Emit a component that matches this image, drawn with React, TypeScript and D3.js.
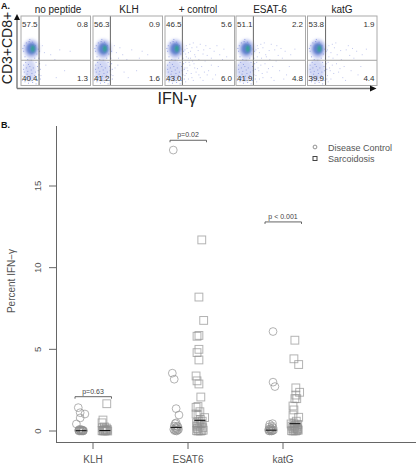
import React from "react";
import * as d3 from "d3";

// ---------- Panel A ----------
const panelNames = ["no peptide", "KLH", "+ control", "ESAT-6", "katG"];
const quadTL = ["57.5", "56.3", "46.5", "51.1", "53.8"];
const quadTR = ["0.8", "0.9", "5.6", "2.2", "1.9"];
const quadBL = ["40.4", "41.2", "43.0", "41.9", "39.9"];
const quadBR = ["1.3", "1.6", "6.0", "4.8", "4.4"];
const panelLeft = [21, 93, 165, 236, 307.5];
const gateX = [26, 25, 25, 25, 26];
const rightDotCount = [10, 16, 60, 42, 36];
const lowerSpread = [0.75, 1, 1.05, 1.1, 1.05];
const rightDots: [number, number][] = [
  [30, 42], [42, 55], [55, 48], [35, 70], [62, 78], [33, 52], [48, 62], [70, 50], [28, 85], [50, 88],
  [38, 45], [66, 60], [31, 74], [44, 80], [78, 55], [36, 60], [58, 42], [29, 66], [52, 72], [84, 47],
  [33, 90], [41, 68], [72, 84], [47, 49], [30, 58], [60, 56], [37, 82], [28, 48], [54, 92], [40, 38],
  [32, 78], [64, 46], [46, 75], [76, 72], [29, 94], [35, 40], [57, 64], [43, 58], [68, 90], [31, 46],
  [50, 40], [38, 88], [82, 62], [34, 66], [60, 84], [45, 44], [28, 74], [74, 42], [40, 92], [54, 54],
  [30, 82], [36, 50], [48, 84], [66, 70], [29, 54], [42, 74], [88, 58], [33, 60], [56, 80], [39, 64],
];
const clusterDots: [number, number][] = [
  [4, 42], [7, 38], [11, 36], [16, 37], [20, 42], [24, 47], [3, 50], [22, 54], [5, 58], [9, 62],
  [14, 63], [19, 60], [25, 60], [2, 46], [26, 50], [12, 33], [17, 40], [6, 66], [21, 66], [10, 69],
  [3, 70], [7, 74], [12, 72], [17, 74], [23, 72], [27, 76], [4, 80], [9, 79], [15, 82], [20, 80],
  [25, 84], [2, 86], [7, 88], [12, 90], [18, 88], [23, 92], [27, 90], [5, 94], [10, 96], [16, 95],
  [21, 97], [3, 76], [14, 77], [19, 85], [8, 83], [26, 68], [1, 92], [13, 86], [24, 78], [6, 91],
];

// ---------- Panel B ----------
const categories = ["KLH", "ESAT6", "katG"];
const yTicks = [0, 5, 10, 15];
const groupOffset = 0.125;
const klhControl: [number, number][] = [
  [-3, 1.43], [4, 1.04], [-1, 1.12], [-1, 0.8], [-5, 0.43], [-2.5, 0.02], [-2, 0], [-1, 0.05], [0, 0], [1, 0.02],
  [2, 0], [2.5, 0.03], [-1.5, 0.1], [0.5, 0.08], [1.5, 0.04], [-2.5, 0.06], [2, 0.01], [-0.5, 0.02],
];
const klhSarc: [number, number][] = [
  [2, 1.67], [-2, 0.67], [-3, 0.5], [-3, 0.02], [-2, 0], [-1, 0.1], [0, 0], [1, 0.05], [2, 0.02], [3, 0],
  [-2.5, 0.2], [-0.5, 0.25], [1.5, 0.18], [2.5, 0.1], [-1.5, 0.03], [0.5, 0.02],
];
const esatControl: [number, number][] = [
  [-3, 17.2], [-4, 3.54], [-2, 3.17], [0, 1.37], [3, 0.98], [-2.5, 0.1], [-1.5, 0.02], [-0.5, 0.2], [0.5, 0], [1.5, 0.05],
  [2.5, 0.1], [-2, 0.3], [-1, 0.45], [0, 0.5], [1, 0.3], [2, 0.25], [-0.5, 0.05], [0.5, 0.15],
];
const esatSarc: [number, number][] = [
  [2, 11.7], [-1, 8.2], [4, 6.77], [-3, 5.8], [-1, 5.85], [-1, 5], [-3, 4.8], [-1, 4.35], [-4, 3.37], [-3, 3.07],
  [-1, 2.88], [1, 2.08], [-2, 1.5], [-4, 1.45], [0, 1.18], [-4, 1.04], [5, 0.82], [-2, 0.95], [-3.5, 0.02], [-2, 0],
  [-1, 0.05], [0.5, 0], [2, 0.02], [3.5, 0.05], [-3, 0.3], [-2, 0.4], [0, 0.3], [1.5, 0.45], [3, 0.2], [-1, 0.6],
  [0.5, 0.7], [-2.5, 0.15], [2.5, 0.6], [-3.5, 0.5],
];
const katControl: [number, number][] = [
  [2, 6.09], [2, 2.99], [4, 2.72], [-2.5, 0.02], [-1.5, 0], [-0.5, 0.05], [0.5, 0], [1.5, 0.03], [2.5, 0.05], [-2, 0.25],
  [-1, 0.12], [0, 0.15], [1, 0.3], [2, 0.2], [-1.5, 0.4], [1.5, 0.45], [-2.5, 0.1], [0.5, 0.02],
];
const katSarc: [number, number][] = [
  [0, 5.56], [-1, 4.42], [4, 4.07], [1, 2.64], [5, 2.37], [1, 2.2], [0, 1.98], [2, 1.98], [-2, 1.53], [-1, 1.29],
  [-2, 0.98], [4, 0.84], [-4, 0.43], [-3.5, 0.02], [-2, 0], [-1, 0.05], [0.5, 0], [2, 0.03], [3.5, 0.05], [3, 0.1],
  [-3, 0.3], [-1, 0.45], [0.5, 0.35], [2, 0.25], [3, 0.4], [-2, 0.15], [0, 0.2], [1.5, 0.6], [2.5, 0.15], [-0.5, 0.3],
];
const controlGroups = [klhControl, esatControl, katControl];
const sarcGroups = [klhSarc, esatSarc, katSarc];
const controlMedians = [0.02, 0.22, 0.05];
const sarcMedians = [0.03, 0.65, 0.45];
const pLabels = ["p=0.63", "p=0.02", "p < 0.001"];
const bracketLevels = [2.1, 17.8, 12.8];

const sans = "'Liberation Sans', Arial, sans-serif";
const axisGrey = "#666";
const markGrey = "#8f8f8f";

const x = d3.scaleLinear().domain([1, 3]).range([93, 283]);
const y = d3.scaleLinear().domain([0, 15]).range([431, 186]);

function FlowPanel({ i }: { i: number }) {
  const left = panelLeft[i];
  const px = d3.scaleLinear().domain([0, 100]).range([left, left + 69.5]);
  const py = d3.scaleLinear().domain([0, 100]).range([16, 85.5]);
  const gx = px(gateX[i]);
  const gy = py(63);
  const s = lowerSpread[i];
  return (
    <g fontFamily={sans}>
      <rect x={left} y={16} width={69.5} height={69.5} fill="#fff" />
      <ellipse cx={px(13)} cy={py(78)} rx={8 * s} ry={11} fill="#c3cbf1" opacity={0.75} filter="url(#b2)" />
      <ellipse cx={px(15)} cy={py(47)} rx={8} ry={9.5} fill="#bcc4ee" filter="url(#b2)" />
      <ellipse cx={px(15)} cy={py(47)} rx={5} ry={6} fill="#6481cf" filter="url(#b1)" />
      <ellipse cx={px(17)} cy={py(47)} rx={1.8} ry={3.2} fill="#2ea58f" filter="url(#b1)" />
      {clusterDots.map(([a, b], k) => (
        <rect key={k} x={px(a)} y={py(b)} width={1} height={1} fill="#6f7fd8" opacity={0.65} />
      ))}
      {rightDots.slice(0, rightDotCount[i]).map(([a, b], k) => (
        <rect key={k} x={px(a)} y={py(b)} width={1} height={1} fill="#8f9ae0" opacity={0.55} />
      ))}
      <line x1={gx} x2={gx} y1={16} y2={85.5} stroke="#555" strokeWidth={0.9} />
      <line x1={left} x2={left + 69.5} y1={gy + 0.5} y2={gy + 0.5} stroke="#999" strokeWidth={0.9} />
      <rect x={left} y={16} width={69.5} height={69.5} fill="none" stroke="#aaa" strokeWidth={1} />
      <g fontSize={8} fill="#333">
        <text x={left + 1} y={27}>{quadTL[i]}</text>
        <text x={left + 67} y={27} textAnchor="end">{quadTR[i]}</text>
        <text x={left + 1} y={81}>{quadBL[i]}</text>
        <text x={left + 67} y={81} textAnchor="end">{quadBR[i]}</text>
      </g>
    </g>
  );
}

function Points({ data, center, shape }: { data: [number, number][]; center: number; shape: "c" | "s" }) {
  return (
    <g fill="none" stroke={markGrey} strokeOpacity={0.68} strokeWidth={1}>
      {data.map(([j, v], k) => {
        const cx = x(center + j / 100);
        const cy = y(v);
        return shape === "c" ? (
          <circle key={k} cx={cx} cy={cy} r={3.9} />
        ) : (
          <rect key={k} x={cx - 3.9} y={cy - 3.9} width={7.8} height={7.8} />
        );
      })}
    </g>
  );
}

export default function App() {
  const pTitleX = [58, 129, 198, 270, 342];
  return (
    <svg
      width={416}
      height={466}
      viewBox="0 0 416 466"
      style={{ position: "absolute", left: 0, top: 0, background: "#fff" }}
    >
      <defs>
        <filter id="b1" x="-50%" y="-50%" width="200%" height="200%"><feGaussianBlur stdDeviation={1.1} /></filter>
        <filter id="b2" x="-50%" y="-50%" width="200%" height="200%"><feGaussianBlur stdDeviation={1.6} /></filter>
      </defs>
      <text x={1} y={9} fontFamily={sans} fontWeight="bold" fontSize={9} fill="#111">A.</text>
      <text x={1} y={128} fontFamily={sans} fontWeight="bold" fontSize={9} fill="#111">B.</text>

      {panelNames.map((n, i) => (
        <text key={n} x={pTitleX[i]} y={12.5} textAnchor="middle" fontFamily={sans} fontSize={10} fill="#222">{n}</text>
      ))}
      {panelNames.map((_, i) => <FlowPanel key={i} i={i} />)}

      <line x1={17} x2={17} y1={19} y2={88.5} stroke="#777" strokeWidth={1.4} />
      <path d="M17 14 L14 20 L20 20 Z" fill="#111" />
      <line x1={17} x2={371} y1={88.5} y2={88.5} stroke="#777" strokeWidth={1.4} />
      <path d="M376.5 88.5 L370 85.5 L370 91.5 Z" fill="#111" />
      <text transform="translate(12,48) rotate(-90)" textAnchor="middle" fontFamily={sans} fontSize={14} fill="#222">CD3+CD8+</text>
      <text x={177} y={104} textAnchor="middle" fontFamily={sans} fontSize={16} fill="#222">IFN-γ</text>

      {/* Axes */}
      <line x1={56.5} x2={56.5} y1={126} y2={443} stroke={axisGrey} strokeWidth={1} />
      <line x1={56} x2={416} y1={442.5} y2={442.5} stroke={axisGrey} strokeWidth={1} />
      {yTicks.map((t) => (
        <g key={t}>
          <line x1={49} x2={56.5} y1={y(t)} y2={y(t)} stroke={axisGrey} strokeWidth={1} />
          <text transform={`translate(41,${y(t)}) rotate(-90)`} textAnchor="middle" fontFamily={sans} fontSize={9.5} fill="#555">{t}</text>
        </g>
      ))}
      {categories.map((c, i) => (
        <g key={c}>
          <line x1={x(i + 1)} x2={x(i + 1)} y1={442.5} y2={449} stroke={axisGrey} strokeWidth={1} />
          <text x={x(i + 1)} y={463} textAnchor="middle" fontFamily={sans} fontSize={10} fill="#555">{c}</text>
        </g>
      ))}
      <text transform="translate(15,281) rotate(-90)" textAnchor="middle" fontFamily={sans} fontSize={10} fill="#555">Percent IFN−γ</text>

      {/* Points */}
      {categories.map((c, i) => (
        <g key={c}>
          <Points data={controlGroups[i]} center={i + 1 - groupOffset} shape="c" />
          <Points data={sarcGroups[i]} center={i + 1 + groupOffset} shape="s" />
          <line x1={x(i + 1 - groupOffset) - 5.5} x2={x(i + 1 - groupOffset) + 5.5} y1={y(controlMedians[i])} y2={y(controlMedians[i])} stroke="#111" strokeWidth={1} />
          <line x1={x(i + 1 + groupOffset) - 5.5} x2={x(i + 1 + groupOffset) + 5.5} y1={y(sarcMedians[i])} y2={y(sarcMedians[i])} stroke="#111" strokeWidth={1} />
          {/* Significance bracket */}
          <path
            d={`M${x(i + 1) - 18} ${y(bracketLevels[i]) + 2} V${y(bracketLevels[i])} H${x(i + 1) + 18.5} V${y(bracketLevels[i]) + 2}`}
            fill="none" stroke="#555" strokeWidth={0.9}
          />
          <text x={x(i + 1)} y={y(bracketLevels[i]) - 3} textAnchor="middle" fontFamily={sans} fontSize={7} fill="#444">{pLabels[i]}</text>
        </g>
      ))}

      {/* Legend */}
      <circle cx={315} cy={147} r={1.9} fill="none" stroke="#777" strokeWidth={0.8} />
      <rect x={313} y={156.5} width={4} height={4} fill="none" stroke="#444" strokeWidth={1} />
      <text x={328} y={150.5} fontFamily={sans} fontSize={9} fill="#555">Disease Control</text>
      <text x={328} y={161.5} fontFamily={sans} fontSize={9} fill="#555">Sarcoidosis</text>
    </svg>
  );
}
